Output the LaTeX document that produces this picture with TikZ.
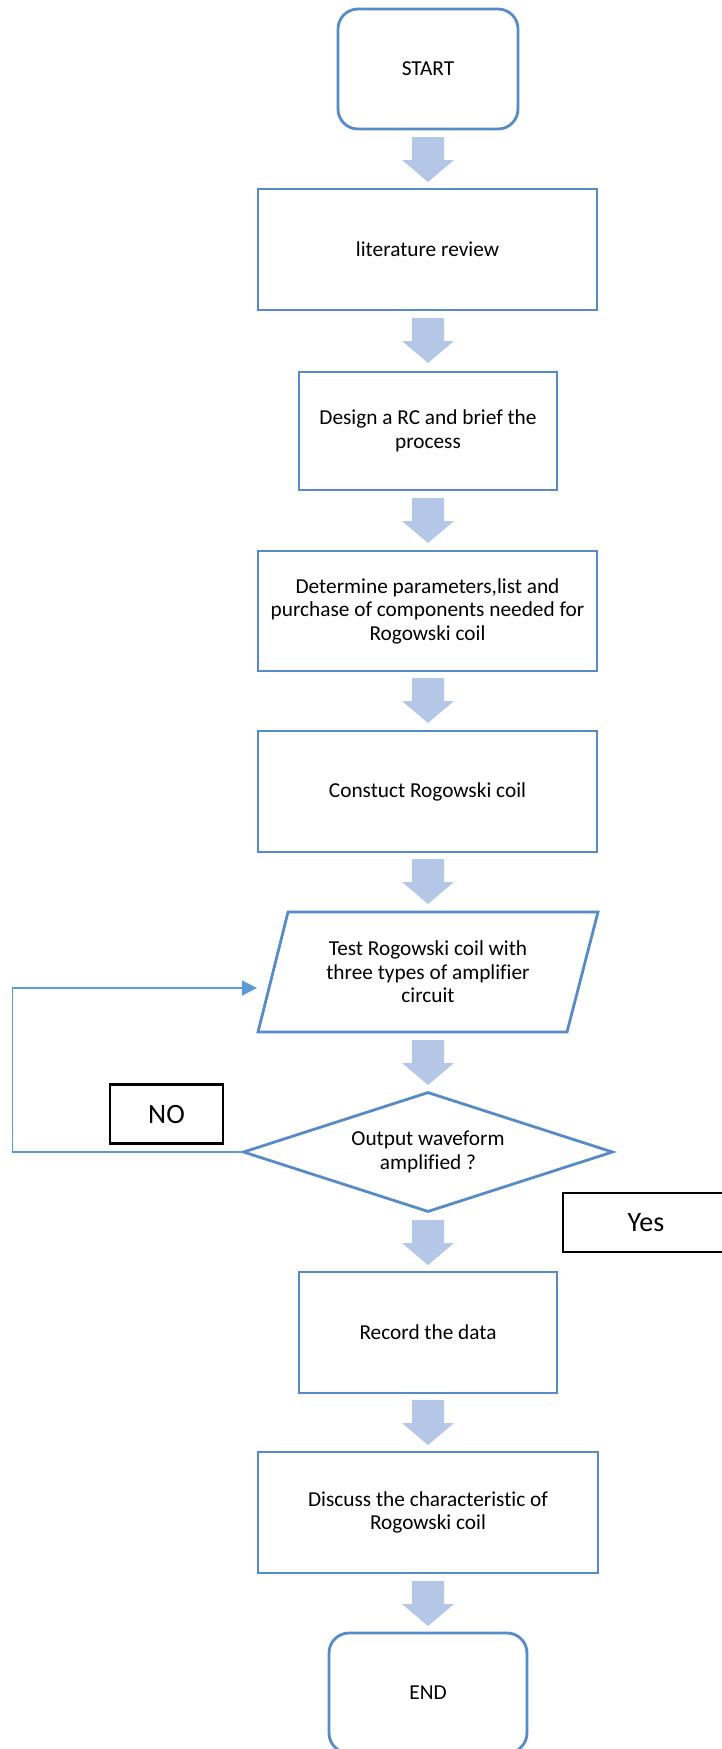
\documentclass[tikz,border=0pt]{standalone}
\usepackage{fontspec}
\setmainfont{Carlito}[Ligatures=NoCommon]
\usetikzlibrary{shapes.geometric,arrows.meta}
\definecolor{boxblue}{RGB}{86,139,199}
\definecolor{arrowblue}{RGB}{180,199,231}
\definecolor{loopblue}{RGB}{91,155,213}
\begin{document}
\begin{tikzpicture}[x=1pt,y=-1pt,font=\fontsize{21.3}{23.5}\selectfont,
  stepbox/.style={draw=boxblue,line width=2.8pt,rectangle,minimum height=120pt,align=center,inner sep=0pt},
  termbox/.style={stepbox,rounded corners=20pt},
  labelbox/.style={draw=black,line width=2.4pt,minimum height=59pt,inner sep=0pt,font=\fontsize{28}{32}\selectfont}]
\useasboundingbox (0,0) rectangle (721,1749);
% block arrows between the steps
\foreach \y in {137,318,498,678,859,1040,1220,1400,1581}
  \fill[arrowblue] (412,\y) -- (444,\y) -- (444,\y+23) -- (454,\y+23) -- (428,\y+45) -- (402,\y+23) -- (412,\y+23) -- cycle;
\node[termbox,minimum width=180pt] (start) at (428,69) {START};
\node[stepbox,minimum width=339pt,minimum height=121pt] (litrev) at (427.5,249.5) {literature review};
\node[stepbox,minimum width=258pt,minimum height=118pt] (design) at (428,431) {Design a RC and brief the\\process};
\node[stepbox,minimum width=339pt] (params) at (427.5,611) {Determine parameters,list and\\purchase of components needed for\\Rogowski coil};
\node[stepbox,minimum width=339pt,minimum height=121pt] (build) at (427.5,791.5) {Constuct Rogowski coil};
\draw[boxblue,line width=2.8pt] (288,912) -- (598,912) -- (567,1032) -- (258,1032) -- cycle;
\node[align=center] (test) at (428,972) {Test Rogowski coil with\\three types of amplifier\\circuit};
\node[diamond,draw=boxblue,line width=2.8pt,minimum width=370pt,minimum height=120pt,aspect=3.08,inner sep=0pt,align=center] (check) at (428,1152) {Output waveform\\amplified ?};
\node[stepbox,minimum width=258pt,minimum height=121pt] (record) at (428,1332.5) {Record the data};
\node[stepbox,minimum width=340pt,minimum height=121pt] (discuss) at (428,1512.5) {Discuss the characteristic of\\Rogowski coil};
\node[termbox,minimum width=198pt] (finish) at (428,1693) {END};
\node[labelbox,minimum width=113pt] (no) at (166.5,1114) {NO};
\node[labelbox,minimum width=166pt] (yes) at (646,1222.5) {Yes};
% loop back
\coordinate (testin) at (257,988);
\draw[loopblue,line width=1.3pt,-{Triangle[length=15pt,width=15pt]}] (check.west) -- ++(-229,0) |- (testin);
\end{tikzpicture}
\end{document}
